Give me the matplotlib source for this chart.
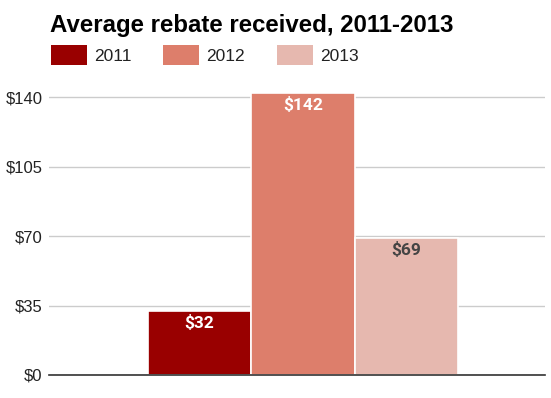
import matplotlib
matplotlib.use('Agg')
import matplotlib.pyplot as plt
from matplotlib.patches import Patch

years = ['2011', '2012', '2013']
rebates = [32, 142, 69]
colors = ['#990000', '#dd7e6b', '#e6b8af']
label_colors = ['white', 'white', '#444444']
yticks = [0, 35, 70, 105, 140]

plt.rcParams['font.family'] = ['Liberation Sans', 'DejaVu Sans']

fig = plt.figure(figsize=(5.51, 3.98), dpi=100)
ax = fig.add_axes([0.0889, 0.0578, 0.9, 0.728])

x = list(range(len(years)))
bars = ax.bar(x, rebates, width=1.0, color=colors, edgecolor='white', linewidth=1.2, zorder=3)

for xi, v, c in zip(x, rebates, label_colors):
    ax.annotate('$%d' % v, (xi, v), xytext=(0, -8.5), textcoords='offset points',
                ha='center', va='center', color=c, fontsize=12.5, fontweight='bold',
                family=['Roboto', 'DejaVu Sans'], zorder=4)

ax.set_xlim(-1.454, 3.338)
ax.set_ylim(0, 146)
ax.set_yticks(yticks)
ax.set_yticklabels(['$%d' % t for t in yticks], fontsize=12, color='#222222')
ax.set_xticks([])
ax.grid(axis='y', color='#cccccc', linewidth=1, zorder=0)
ax.tick_params(axis='y', length=0, pad=4.5)
for side in ['top', 'right', 'left']:
    ax.spines[side].set_visible(False)
ax.spines['bottom'].set_color('#333333')
ax.spines['bottom'].set_linewidth(1.2)
ax.spines['bottom'].set_zorder(5)

fig.text(0.0907, 0.936, 'Average rebate received, 2011-2013', fontsize=17.3,
         fontweight='bold', ha='left', va='center', color='black')

handles = [Patch(facecolor=c, edgecolor='none', label=y) for c, y in zip(colors, years)]
fig.legend(handles=handles, loc='center left', bbox_to_anchor=(0.0926, 0.861), ncol=3,
           frameon=False, fontsize=12.5, handlelength=2.07, handleheight=1.4,
           handletextpad=0.4, columnspacing=1.84, borderpad=0, borderaxespad=0,
           labelcolor='#222222')

fig.savefig('out.png', dpi=100)
